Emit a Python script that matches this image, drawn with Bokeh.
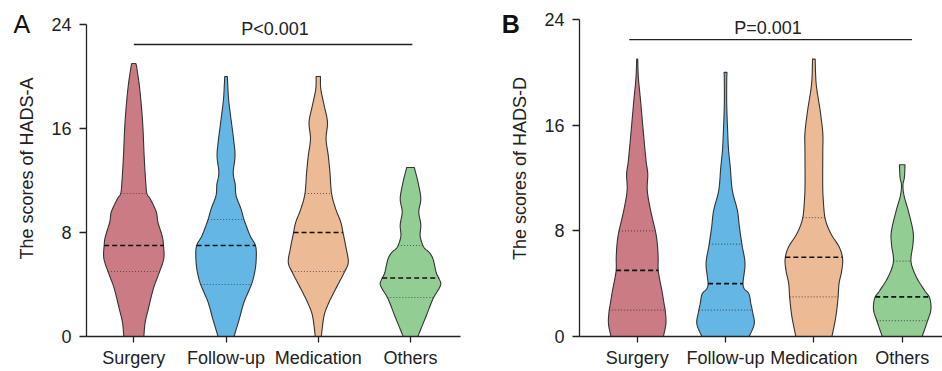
import numpy as np
from bokeh.plotting import figure
from bokeh.layouts import row
from bokeh.models import FixedTicker
from bokeh.core.properties import value
from bokeh.embed import file_html
from bokeh.resources import INLINE

# ---------------- data ----------------
categories = ["Surgery", "Follow-up", "Medication", "Others"]
fill_colors = ["#CB7B83", "#64B6E4", "#EDBA96", "#92CE94"]
y_ticks = [0, 8, 16, 24]

# Panel A (HADS-A): density profiles (score level, relative density)
a_surgery_y = [0, 1.1, 2.1, 3.7, 4.9, 6.0, 7.0, 7.7, 8.8, 9.6, 10.6, 11.0, 11.9, 13.9, 16.5, 19.0, 20.6, 21]
a_surgery_d = [9.7, 11, 14, 19, 24.5, 29, 28.7, 27.5, 23.3, 21.7, 15.8, 12.7, 11.5, 10, 8.5, 5.8, 3, 2]
a_followup_y = [0, 1.36, 2.64, 3.92, 4.7, 5.7, 6.92, 7.77, 8.92, 9.8, 10.85, 11.7, 12.6, 13.9, 15.2, 17, 18.3, 20]
a_followup_d = [8, 13.3, 18, 25, 28, 30, 29.7, 24, 18.3, 15, 10, 9.2, 7.2, 9, 7.5, 4.5, 2.5, 1.3]
a_medication_y = [0, 1.6, 2.64, 3.67, 4.9, 5.7, 6.74, 7.9, 8.8, 9.8, 11, 12.6, 13.9, 15.2, 16.5, 17.8, 19.05, 20]
a_medication_d = [3, 5.8, 10.8, 17.5, 25.8, 30, 28, 25, 22.5, 17.5, 13.3, 11.7, 10, 7.8, 9.2, 5.8, 2.5, 2.2]
a_others_y = [0, 1.6, 2.9, 3.92, 4.43, 4.9, 5.97, 6.5, 6.87, 7.7, 8.6, 9.6, 10.6, 11.87, 13]
a_others_d = [7.3, 15.8, 22.5, 30, 28.7, 25.8, 22.5, 18.3, 13.3, 9.7, 10.3, 8.3, 10.3, 7.5, 3.8]
a_median = [7, 7, 8, 4.5]
a_q1 = [5, 4, 5, 3]
a_q3 = [11, 9, 11, 7]
a_label = "The scores of HADS-A"
a_p = "P<0.001"

# Panel B (HADS-D)
b_surgery_y = [0, 0.96, 1.84, 2.47, 3.48, 4.92, 6.0, 7.0, 7.9, 9.55, 11.06, 12.3, 13.3, 15.4, 17.9, 19.6, 21]
b_surgery_d = [26, 28.5, 28, 26.7, 24.5, 21, 20.8, 20, 18.3, 13.3, 10, 10.5, 8.8, 6.2, 3.3, 1.2, 0.5]
b_followup_y = [0, 0.96, 1.84, 2.47, 3.23, 3.86, 5.5, 6.9, 8.28, 9.55, 11.06, 12.8, 14.1, 15.35, 17.5, 19.5, 20]
b_followup_d = [23.3, 28.3, 26.7, 25, 23, 17.3, 19.2, 16.3, 13.7, 11.7, 6.7, 4.7, 3, 2.2, 1.2, 1.2, 1.5]
b_medication_y = [0, 1.52, 2.9, 4.0, 5.0, 5.9, 6.77, 7.8, 8.9, 10.3, 11.6, 14.1, 15.4, 17.1, 19.1, 21]
b_medication_d = [17.8, 21.7, 23.8, 24.8, 27.5, 28.3, 25, 16.7, 11.2, 9.3, 8.7, 8.8, 8.8, 6.2, 2.3, 1.3]
b_others_y = [0, 1.16, 2.04, 2.92, 3.48, 4.5, 5.68, 7.0, 8.0, 9.6, 10.6, 11.44, 12.07, 13]
b_others_d = [20, 25.3, 28.8, 27.5, 22.5, 14.2, 8.8, 10.8, 10.8, 5.8, 2, 0.7, 2.2, 2.8]
b_median = [5, 4, 6, 3]
b_q1 = [2, 2, 3, 1.2]
b_q3 = [8, 7, 9, 5.7]
b_label = "The scores of HADS-D"
b_p = "P=0.001"

FONT = "Liberation Sans"
HALF = 0.325  # max half-width of each violin in category units


def smooth_outline(yy, ww, n=8):
    """Catmull-Rom curve through the profile points, for a smooth outline."""
    pts = np.column_stack([yy, ww])
    ext = np.vstack([pts[0], pts, pts[-1]])
    out = []
    for k in range(1, len(ext) - 2):
        p0, p1, p2, p3 = ext[k - 1], ext[k], ext[k + 1], ext[k + 2]
        for t in np.linspace(0, 1, n, endpoint=False):
            t2, t3 = t * t, t * t * t
            out.append(0.5 * ((2 * p1) + (-p0 + p2) * t
                              + (2 * p0 - 5 * p1 + 4 * p2 - p3) * t2
                              + (-p0 + 3 * p1 - 3 * p2 + p3) * t3))
    out.append(pts[-1])
    out = np.array(out)
    return out[:, 0], np.clip(out[:, 1], 0, None)


def make_panel(profiles, med, q1, q3, ylabel, ptext, letter, letter_bold,
               width, left, right, xr, ytop, letter_xy, p_line, p_text_xy):
    p = figure(width=width, height=371, x_range=xr, y_range=(0, ytop),
               output_backend="svg", toolbar_location=None,
               min_border_left=left, min_border_right=right,
               min_border_top=0, min_border_bottom=35)
    p.xgrid.visible = False
    p.ygrid.visible = False
    p.outline_line_color = None
    p.background_fill_color = None
    p.border_fill_color = None

    xs, ys, cols = [], [], []
    qx0, qx1, qy, mx0, mx1, my = [], [], [], [], [], []
    for i, (yy, dd) in enumerate(profiles):
        c = i + 1
        yy = np.asarray(yy, float)
        w = np.asarray(dd, float) / max(dd) * HALF
        sy, sw = smooth_outline(yy, w)
        xs.append(list(np.concatenate([c + sw, (c - sw)[::-1]])))
        ys.append(list(np.concatenate([sy, sy[::-1]])))
        cols.append(fill_colors[i])
        for val in (q1[i], q3[i]):
            hw = np.interp(val, sy, sw)
            qx0.append(c - hw); qx1.append(c + hw); qy.append(val)
        hw = np.interp(med[i], sy, sw)
        mx0.append(c - hw); mx1.append(c + hw); my.append(med[i])

    p.patches(xs=xs, ys=ys, fill_color=cols, line_color="#333333", line_width=1.1)
    p.segment(x0=qx0, x1=qx1, y0=qy, y1=qy,
              line_color="#333333", line_alpha=0.7, line_width=1.2, line_dash="1 2")
    p.segment(x0=mx0, x1=mx1, y0=my, y1=my,
              line_color="#111111", line_width=1.7, line_dash="5 3")

    # significance bar and text
    p.segment(x0=[p_line[0]], x1=[p_line[1]], y0=[p_line[2]], y1=[p_line[2]],
              line_color="#222222", line_width=1.3)
    p.text(x=[p_text_xy[0]], y=[p_text_xy[1]], text=[ptext],
           text_font=value(FONT), text_font_size=value("18px"), text_color="#222222",
           text_align="center", text_baseline="middle", level="overlay")
    # panel letter
    p.text(x=[letter_xy[0]], y=[letter_xy[1]], text=[letter],
           text_font=value(FONT), text_font_size=value("25px"), text_color="#111111",
           text_font_style="bold" if letter_bold else "normal",
           text_align="center", text_baseline="middle", level="overlay")

    p.xaxis.ticker = FixedTicker(ticks=[1, 2, 3, 4])
    p.xaxis.major_label_overrides = {i + 1: n for i, n in enumerate(categories)}
    p.yaxis.ticker = FixedTicker(ticks=y_ticks)
    p.yaxis.bounds = (0, 24)
    p.yaxis.axis_label = ylabel
    for ax in (p.xaxis[0], p.yaxis[0]):
        ax.axis_line_color = "#222222"
        ax.axis_line_width = 1.3
        ax.major_tick_line_color = "#222222"
        ax.major_tick_line_width = 1.3
        ax.major_tick_in = 0
        ax.minor_tick_out = 0
        ax.minor_tick_in = 0
        ax.major_label_text_font = FONT
        ax.major_label_text_font_size = "18px"
        ax.major_label_text_color = "#222222"
        ax.axis_label_text_font = FONT
        ax.axis_label_text_font_size = "18px"
        ax.axis_label_text_font_style = "normal"
        ax.axis_label_text_color = "#222222"
    p.xaxis.major_tick_out = 6
    p.xaxis.major_label_standoff = 5
    p.yaxis.major_tick_out = 7
    p.yaxis.major_label_standoff = 8
    p.yaxis.axis_label_standoff = 11
    return p


pa = make_panel(
    [(a_surgery_y, a_surgery_d), (a_followup_y, a_followup_d),
     (a_medication_y, a_medication_d), (a_others_y, a_others_d)],
    a_median, a_q1, a_q3, a_label, a_p, "A", False,
    width=470, left=86, right=10, xr=(0.487, 4.542), ytop=25.846,
    letter_xy=(-0.213, 24.04), p_line=(1.0, 4.02, 22.46), p_text_xy=(2.53, 23.62))

pb = make_panel(
    [(b_surgery_y, b_surgery_d), (b_followup_y, b_followup_d),
     (b_medication_y, b_medication_d), (b_others_y, b_others_d)],
    b_median, b_q1, b_q3, b_label, b_p, "B", True,
    width=472, left=109, right=0, xr=(0.347, 4.456), ytop=25.44,
    letter_xy=(-0.43, 23.67), p_line=(0.91, 4.11, 22.48), p_text_xy=(2.48, 23.35))

layout = row(pa, pb, spacing=0)
open("out.html", "w").write(file_html(layout, INLINE))
